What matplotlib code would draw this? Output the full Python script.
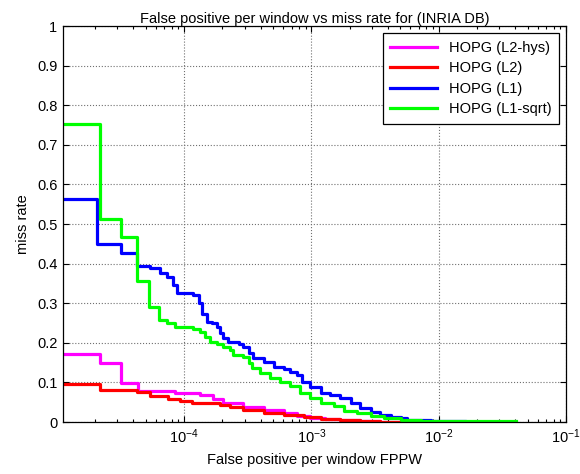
import numpy as np
import matplotlib
matplotlib.use("Agg")
import matplotlib.pyplot as plt
from matplotlib.ticker import LogLocator, NullFormatter

plt.rcParams['font.family'] = ['Liberation Sans', 'DejaVu Sans']
plt.rcParams['mathtext.fontset'] = 'custom'
plt.rcParams['mathtext.rm'] = 'Liberation Sans'
plt.rcParams['mathtext.it'] = 'Liberation Sans:italic'
plt.rcParams['mathtext.bf'] = 'Liberation Sans:bold'

# Courbes en escalier (FPPW, taux de manque)
fppw_l2hys = [1.12e-5, 2.2e-5, 3.18e-5, 4.37e-5, 8.5e-5, 1.34e-4, 1.70e-4, 2.04e-4,
              2.93e-4, 4.21e-4, 6.05e-4, 7.72e-4, 9.82e-4, 1.29e-3, 1.69e-3, 2.43e-3,
              3.49e-3, 5.0e-3]
miss_l2hys = [0.172, 0.148, 0.099, 0.078, 0.073, 0.068, 0.057, 0.047,
              0.039, 0.030, 0.022, 0.016, 0.011, 0.008, 0.005, 0.002,
              0.0, 0.0]

fppw_l2 = [1.12e-5, 2.2e-5, 4.3e-5, 5.4e-5, 7.52e-5, 9.3e-5, 1.15e-4, 1.92e-4,
           2.30e-4, 2.93e-4, 4.21e-4, 6.05e-4, 8.7e-4, 1.18e-3, 1.69e-3, 2.43e-3,
           3.49e-3, 5.0e-3]
miss_l2 = [0.096, 0.081, 0.077, 0.066, 0.057, 0.054, 0.047, 0.043,
           0.037, 0.030, 0.023, 0.018, 0.012, 0.008, 0.005, 0.003,
           0.0, 0.0]

fppw_l1 = [1.12e-5, 2.06e-5, 3.18e-5, 4.24e-5, 5.4e-5, 6.47e-5, 7.31e-5, 8.24e-5,
           8.76e-5, 1.18e-4, 1.30e-4, 1.38e-4, 1.51e-4, 1.65e-4, 1.81e-4, 1.92e-4,
           2.04e-4, 2.23e-4, 2.68e-4, 2.93e-4, 3.21e-4, 3.51e-4, 4.21e-4, 5.05e-4,
           6.05e-4, 6.83e-4, 7.72e-4, 8.45e-4, 9.82e-4, 1.18e-3, 1.41e-3, 1.69e-3,
           2.03e-3, 2.43e-3, 2.92e-3, 3.49e-3, 4.19e-3, 5.02e-3, 5.67e-3, 8.65e-3,
           1.63e-2]
miss_l1 = [0.562, 0.449, 0.428, 0.394, 0.388, 0.377, 0.367, 0.346,
           0.327, 0.321, 0.300, 0.274, 0.253, 0.249, 0.241, 0.224,
           0.211, 0.203, 0.197, 0.190, 0.173, 0.161, 0.152, 0.140,
           0.133, 0.127, 0.119, 0.102, 0.089, 0.074, 0.068, 0.060,
           0.047, 0.036, 0.026, 0.018, 0.013, 0.009, 0.005, 0.002,
           0.0]

fppw_l1sqrt = [1.12e-5, 2.2e-5, 3.18e-5, 4.24e-5, 5.35e-5, 6.4e-5, 7.31e-5, 8.5e-5,
               1.18e-4, 1.34e-4, 1.46e-4, 1.60e-4, 1.81e-4, 2.04e-4, 2.30e-4, 2.44e-4,
               2.93e-4, 3.21e-4, 3.41e-4, 3.97e-4, 4.75e-4, 5.70e-4, 6.83e-4, 8.19e-4,
               9.82e-4, 1.18e-3, 1.50e-3, 1.80e-3, 2.29e-3, 2.92e-3, 3.71e-3, 5.02e-3,
               7.21e-3, 4.04e-2]
miss_l1sqrt = [0.752, 0.513, 0.467, 0.356, 0.291, 0.258, 0.249, 0.241,
               0.234, 0.228, 0.215, 0.203, 0.197, 0.190, 0.182, 0.169,
               0.163, 0.148, 0.136, 0.123, 0.110, 0.102, 0.090, 0.072,
               0.060, 0.049, 0.040, 0.029, 0.022, 0.015, 0.009, 0.005,
               0.002, 0.002]

y_ticks = [0, 0.1, 0.2, 0.3, 0.4, 0.5, 0.6, 0.7, 0.8, 0.9, 1]
y_labels = ['0', '0.1', '0.2', '0.3', '0.4', '0.5', '0.6', '0.7', '0.8', '0.9', '1']
x_ticks = [1e-4, 1e-3, 1e-2, 1e-1]
x_labels = [r'$10^{-4}$', r'$10^{-3}$', r'$10^{-2}$', r'$10^{-1}$']

series = [
    ("HOPG (L2-hys)", fppw_l2hys, miss_l2hys, "#ff00ff"),
    ("HOPG (L2)", fppw_l2, miss_l2, "#ff0000"),
    ("HOPG (L1)", fppw_l1, miss_l1, "#0000ff"),
    ("HOPG (L1-sqrt)", fppw_l1sqrt, miss_l1sqrt, "#00ff00"),
]

fs = 10.5

fig = plt.figure(figsize=(5.8, 4.74), dpi=100)
ax = fig.add_axes([0.1086, 0.1097, 0.8673, 0.8354])

for nom, x, y, c in series:
    ax.plot(x, y, drawstyle='steps-post', color=c, lw=2.3, label=nom)

ax.set_xscale('log')
ax.set_xlim(1.12e-5, 1e-1)
ax.set_ylim(0, 1)
ax.set_xticks(x_ticks)
ax.set_xticklabels(x_labels)
ax.xaxis.set_minor_locator(LogLocator(base=10, subs=np.arange(2, 10), numticks=20))
ax.xaxis.set_minor_formatter(NullFormatter())
ax.set_yticks(y_ticks)
ax.set_yticklabels(y_labels)

ax.tick_params(which='both', direction='in', top=True, right=True, labelsize=fs)
ax.tick_params(which='major', length=4, width=0.8, pad=4)
ax.tick_params(which='minor', length=2, width=0.8)
ax.grid(True, which='major', color='#707070', linestyle=':', linewidth=0.8)
for s in ax.spines.values():
    s.set_linewidth(0.9)

ax.set_title("False positive per window vs miss rate for (INRIA DB)", fontsize=fs, pad=1)
ax.set_xlabel("False positive per window FPPW", fontsize=fs, labelpad=5)
ax.set_ylabel("miss rate", fontsize=fs, labelpad=5)

leg = ax.legend(loc='upper right', fontsize=fs, fancybox=False, edgecolor='black',
                framealpha=1, handlelength=3.2, borderaxespad=0.5, labelspacing=0.45,
                borderpad=0.5)
leg.get_frame().set_linewidth(0.9)

fig.savefig("out.png", dpi=100)
